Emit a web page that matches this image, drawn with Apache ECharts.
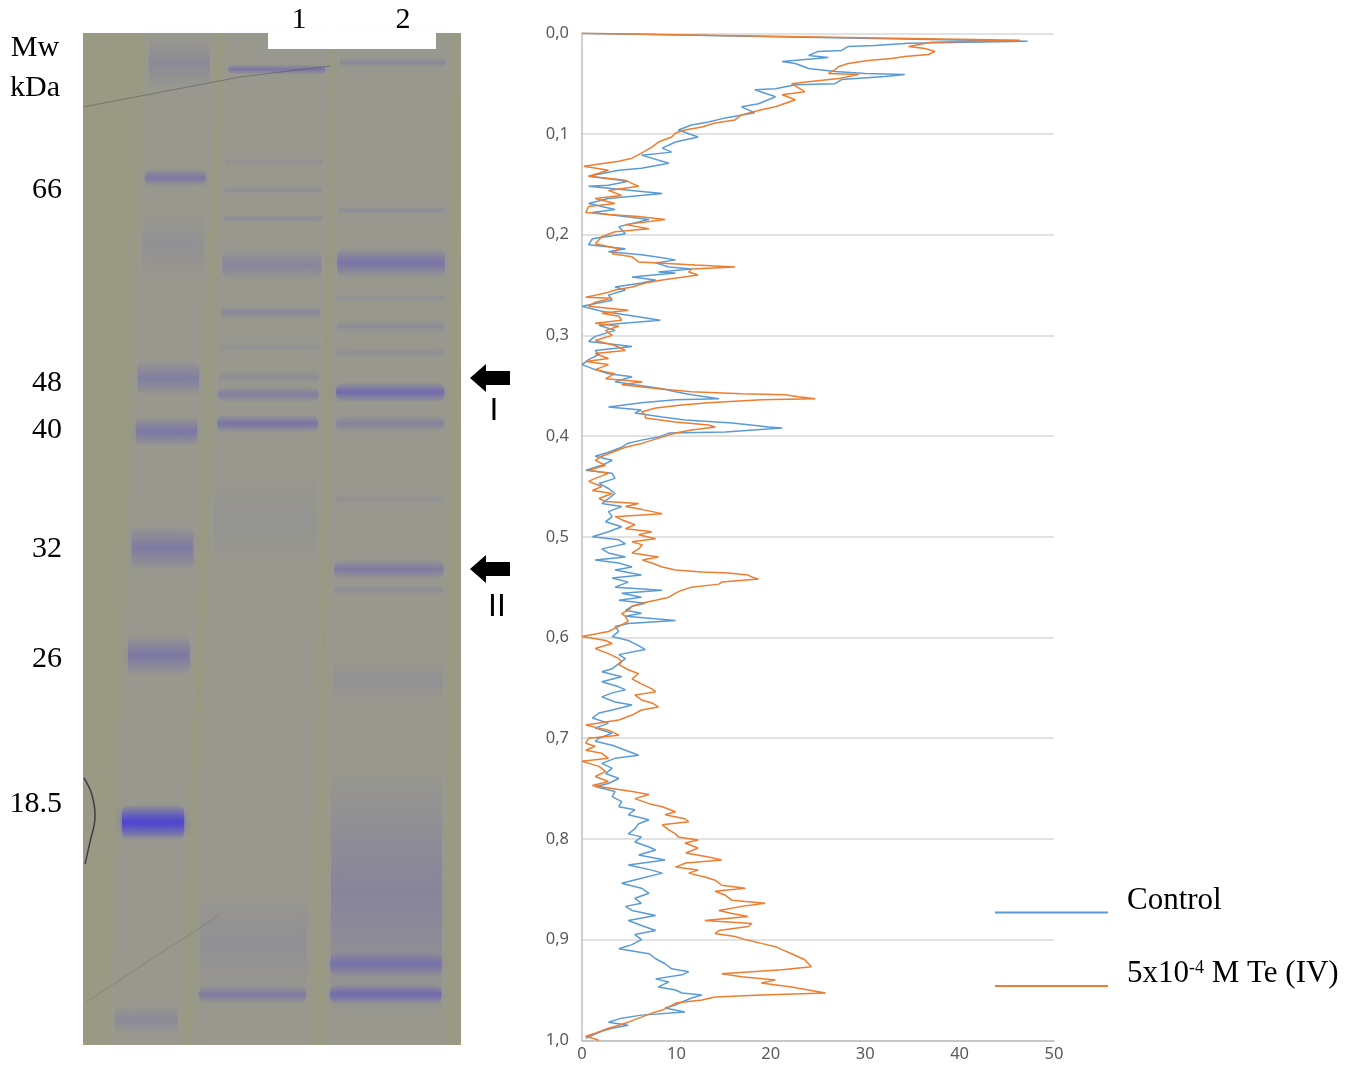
<!DOCTYPE html>
<html>
<head>
<meta charset="utf-8">
<title>SDS-PAGE and densitogram</title>
<script src="https://cdn.jsdelivr.net/npm/echarts@6.0.0/dist/echarts.min.js"></script>
<style>
  html, body { margin: 0; padding: 0; background: #fff; }
  #main { width: 1355px; height: 1065px; }
</style>
</head>
<body>
<div id="main"></div>
<script>
// densitogram profiles: [intensity, relative position]
var controlProfile = [
  [0,0],[47.2,0.008],[34.6,0.010],[31.0,0.012],[28.2,0.013],[27.5,0.017],[25.0,0.018],[24.0,0.022],[26.1,0.024],[21.2,0.028],[22.6,0.030],[24.0,0.035],[26.8,0.038],[30.0,0.040],[34.2,0.041],[32.1,0.043],[27.5,0.046],[26.8,0.050],[22.6,0.051],[20.5,0.055],[18.3,0.056],[20.5,0.063],[18.7,0.070],[16.9,0.073],[18.3,0.079],[15.2,0.084],[13.4,0.088],[11.6,0.091],[10.2,0.096],[12.3,0.103],[9.9,0.108],[8.5,0.114],[9.5,0.118],[6.3,0.121],[9.2,0.129],[6.3,0.134],[3.9,0.136],[0.7,0.142],[4.9,0.147],[2.8,0.151],[0.7,0.152],[8.5,0.159],[2.8,0.164],[0.7,0.169],[3.5,0.175],[1.1,0.178],[7.1,0.185],[3.9,0.192],[4.6,0.199],
  [1.1,0.204],[0.7,0.210],[4.6,0.214],[2.8,0.217],[6.3,0.220],[7.8,0.222],[9.9,0.225],[7.8,0.228],[9.2,0.232],[11.6,0.234],[8.1,0.237],[9.9,0.238],[5.3,0.242],[7.8,0.245],[6.3,0.248],[3.5,0.252],[4.6,0.255],[2.8,0.260],[3.2,0.265],[0.0,0.271],[2.1,0.276],[5.6,0.281],[8.3,0.285],[1.8,0.290],[3.5,0.295],[1.4,0.301],[0.7,0.306],[5.3,0.311],[1.4,0.315],[1.8,0.319],[0.7,0.324],[0.0,0.329],[1.4,0.334],[2.8,0.338],[5.3,0.341],[3.5,0.346],[5.6,0.349],[8.5,0.353],[9.9,0.356],[11.6,0.359],[14.5,0.363],[9.9,0.364],[6.3,0.367],[2.8,0.371],[6.3,0.374],[5.6,0.377],[8.5,0.381],[10.9,0.384],[15.9,0.387],[19.8,0.391],[21.2,0.392],[15.2,0.396],[9.2,0.397],[8.1,0.401],[6.3,0.404],[4.9,0.407],
  [4.2,0.411],[2.8,0.416],[1.4,0.420],[3.2,0.424],[2.1,0.429],[0.4,0.434],[3.2,0.437],[3.5,0.442],[1.8,0.447],[2.8,0.452],[3.5,0.457],[2.8,0.462],[2.1,0.467],[4.2,0.470],[2.8,0.475],[3.2,0.480],[2.5,0.485],[4.2,0.490],[2.8,0.495],[1.1,0.500],[3.9,0.503],[4.6,0.507],[2.1,0.512],[2.8,0.516],[4.6,0.520],[1.4,0.523],[3.9,0.526],[5.3,0.530],[3.5,0.533],[6.3,0.538],[3.2,0.541],[4.9,0.545],[3.5,0.550],[8.5,0.553],[4.2,0.556],[6.3,0.560],[3.9,0.563],[6.7,0.566],[5.3,0.569],[4.6,0.573],[6.3,0.576],[4.6,0.579],[9.9,0.583],[4.9,0.586],[3.5,0.589],[3.9,0.594],[3.2,0.599],[4.9,0.603],[6.0,0.608],[6.7,0.612],[3.9,0.617],[4.6,0.621],
  [3.9,0.626],[3.2,0.631],[2.1,0.634],[4.2,0.639],[2.1,0.644],[3.9,0.649],[4.6,0.652],[3.2,0.655],[2.1,0.659],[3.5,0.664],[5.3,0.667],[3.2,0.672],[1.8,0.675],[1.1,0.680],[2.8,0.685],[1.4,0.690],[3.2,0.695],[1.8,0.700],[1.4,0.703],[3.2,0.707],[4.6,0.712],[6.0,0.717],[3.5,0.720],[2.1,0.725],[3.2,0.730],[2.5,0.735],[3.9,0.740],[2.8,0.745],[1.4,0.748],[3.5,0.753],[3.2,0.758],[4.2,0.763],[3.9,0.768],[5.6,0.771],[4.9,0.776],[7.1,0.781],[6.0,0.785],[5.6,0.790],[4.9,0.795],[6.3,0.798],[5.6,0.803],[7.1,0.808],
  [7.8,0.811],[6.0,0.816],[8.8,0.821],[4.9,0.826],[7.4,0.831],[8.5,0.834],[6.3,0.839],[4.2,0.844],[6.3,0.849],[7.1,0.854],[5.6,0.859],[6.3,0.864],[4.6,0.867],[5.3,0.871],[7.8,0.876],[4.9,0.881],[6.3,0.886],[7.8,0.891],[5.6,0.895],[6.3,0.900],[5.3,0.905],[3.9,0.909],[7.1,0.914],[7.8,0.919],[8.8,0.924],[9.5,0.929],[11.3,0.932],[10.6,0.935],[7.8,0.939],[9.2,0.942],[8.1,0.947],[9.9,0.950],[10.6,0.953],[12.7,0.955],[11.6,0.958],[10.6,0.962],[9.9,0.965],[8.8,0.968],[10.9,0.972],[6.3,0.975],[4.2,0.978],[2.8,0.982],[4.9,0.985],[3.2,0.988],[2.1,0.991],[1.1,0.995],[0.4,0.998]
];

var teProfile = [
  [0,0],[46.4,0.007],[37.0,0.009],[34.6,0.013],[36.3,0.015],[37.4,0.018],[36.7,0.021],[34.2,0.023],[32.8,0.025],[30.3,0.027],[28.2,0.030],[27.2,0.033],[26.8,0.036],[26.1,0.040],[29.3,0.041],[27.2,0.045],[24.0,0.048],[22.2,0.050],[23.6,0.058],[21.2,0.061],[22.6,0.066],[20.5,0.073],[19.0,0.076],[16.9,0.081],[16.2,0.086],[14.1,0.089],[12.7,0.093],[10.9,0.096],[9.9,0.099],[9.5,0.103],[8.1,0.108],[7.4,0.113],[6.3,0.119],[5.3,0.124],[3.9,0.127],[0.2,0.132],[2.8,0.136],[0.7,0.142],[4.6,0.146],[6.0,0.152],[2.8,0.156],[4.2,0.161],[1.4,0.164],[3.5,0.169],[0.7,0.172],[0.4,0.178],[2.8,0.180],[6.0,0.182],[8.8,0.185],[4.6,0.190],[7.1,0.194],[3.5,0.197],[2.1,0.202],
  [1.4,0.209],[3.9,0.214],[3.2,0.219],[5.3,0.222],[6.0,0.227],[8.1,0.228],[12.0,0.230],[16.2,0.232],[11.6,0.234],[11.3,0.237],[12.3,0.240],[8.5,0.245],[6.7,0.248],[5.3,0.252],[3.5,0.255],[2.5,0.258],[0.4,0.262],[3.2,0.263],[1.4,0.267],[0.7,0.271],[4.9,0.275],[2.1,0.278],[3.9,0.281],[4.2,0.285],[1.4,0.288],[3.9,0.291],[2.5,0.295],[3.2,0.300],[1.4,0.305],[3.5,0.310],[4.6,0.315],[1.4,0.318],[2.8,0.323],[0.4,0.326],[2.8,0.329],[1.4,0.334],[3.5,0.338],[2.5,0.343],[6.4,0.346],[4.2,0.349],[8.1,0.353],[11.6,0.356],[16.9,0.358],[21.5,0.359],[22.9,0.361],[24.7,0.363],[19.0,0.364],[13.4,0.367],[10.6,0.369],[7.8,0.372],[6.3,0.376],[6.7,0.379],[6.7,0.382],[9.9,0.386],[13.4,0.389],[14.1,0.391],[11.6,0.394],[9.9,0.397],[8.5,0.401],[6.4,0.407],
  [4.6,0.411],[3.2,0.416],[2.1,0.420],[1.4,0.424],[2.5,0.429],[0.7,0.434],[2.8,0.437],[1.4,0.442],[0.7,0.445],[2.1,0.450],[1.1,0.454],[3.2,0.457],[1.8,0.462],[2.5,0.465],[6.0,0.467],[4.6,0.470],[6.4,0.473],[8.5,0.477],[3.5,0.480],[4.2,0.483],[5.6,0.488],[4.6,0.492],[7.4,0.495],[6.0,0.498],[7.8,0.502],[5.3,0.505],[6.4,0.508],[6.0,0.512],[5.3,0.516],[8.1,0.520],[6.4,0.523],[7.4,0.526],[8.5,0.530],[9.9,0.533],[12.7,0.535],[15.5,0.536],[17.6,0.538],[18.0,0.540],[18.7,0.542],[14.8,0.545],[14.5,0.547],[11.6,0.550],[10.6,0.553],[9.9,0.556],[9.2,0.560],[7.8,0.563],[6.3,0.566],[5.3,0.569],[4.9,0.573],[4.2,0.576],[4.6,0.579],[4.9,0.584],[3.9,0.589],[2.8,0.594],[0.0,0.599],[2.5,0.603],[3.2,0.606],[1.4,0.611],[2.8,0.616],[3.9,0.621],
  [4.2,0.624],[3.9,0.627],[4.9,0.632],[6.0,0.636],[5.3,0.641],[6.3,0.646],[7.4,0.651],[7.8,0.654],[5.6,0.657],[6.3,0.662],[7.4,0.665],[8.1,0.669],[6.3,0.672],[5.3,0.677],[3.9,0.682],[0.4,0.687],[2.8,0.692],[3.9,0.697],[0.7,0.700],[0.4,0.705],[1.4,0.708],[0.4,0.712],[2.1,0.715],[2.8,0.720],[0.0,0.723],[1.8,0.728],[2.5,0.733],[1.4,0.738],[2.8,0.743],[1.1,0.747],[3.2,0.750],[5.3,0.753],[7.1,0.756],[5.6,0.760],[7.1,0.765],[8.5,0.768],[9.9,0.773],[8.8,0.776],[10.9,0.780],[11.3,0.783],[8.5,0.786],[9.2,0.791],[9.9,0.795],[10.2,0.798],[12.3,0.801],[10.9,0.804],[12.3,0.809],
  [11.0,0.814],[13.4,0.818],[14.8,0.821],[11.0,0.824],[9.9,0.828],[12.3,0.831],[11.3,0.834],[13.1,0.838],[14.1,0.841],[14.8,0.846],[17.3,0.849],[14.1,0.852],[15.2,0.856],[15.9,0.861],[19.4,0.864],[16.9,0.867],[14.5,0.871],[15.9,0.874],[17.6,0.877],[13.0,0.881],[18.0,0.884],[17.6,0.887],[14.5,0.891],[14.1,0.894],[16.2,0.897],[17.3,0.900],[19.1,0.904],[20.5,0.907],[21.2,0.910],[22.2,0.914],[22.9,0.917],[23.6,0.920],[24.0,0.924],[24.3,0.927],[21.2,0.930],[18.0,0.932],[14.8,0.934],[16.9,0.937],[20.5,0.940],[19.0,0.943],[22.2,0.947],[24.0,0.950],[25.8,0.953],[19.0,0.955],[14.1,0.957],[12.7,0.960],[9.9,0.963],[9.2,0.967],[8.5,0.970],[7.4,0.973],[6.3,0.977],[4.9,0.982],[3.9,0.985],[2.8,0.988],[1.4,0.993],[0.4,0.996],[1.8,1.000]
];

var seriesNames = ['Control', '5x10-4 M Te (IV)'];

// gel: marker labels (kDa) and where they sit along the gel
var markerKDa = ['66', '48', '40', '32', '26', '18.5'];
var markerMigration = [0.155, 0.346, 0.392, 0.510, 0.619, 0.762];

// gel bands per lane: [migration, intensity, breadth]
var markerBands = [[0.03,0.22,0.05],[0.143,0.5,0.018],[0.21,0.12,0.07],[0.341,0.4,0.035],[0.394,0.5,0.03],[0.509,0.45,0.045],[0.615,0.5,0.04],[0.78,0.9,0.035],[0.975,0.22,0.03]];
var lane1Bands = [[0.036,0.55,0.01],[0.127,0.12,0.008],[0.155,0.17,0.008],[0.183,0.2,0.008],[0.229,0.3,0.03],[0.276,0.3,0.012],[0.31,0.12,0.01],[0.34,0.18,0.012],[0.357,0.4,0.016],[0.386,0.55,0.018],[0.48,0.08,0.1],[0.9,0.15,0.1],[0.95,0.45,0.018]];
var lane2Bands = [[0.029,0.25,0.01],[0.175,0.2,0.008],[0.227,0.55,0.03],[0.262,0.15,0.008],[0.29,0.2,0.012],[0.316,0.15,0.01],[0.355,0.7,0.02],[0.386,0.35,0.016],[0.46,0.12,0.01],[0.53,0.45,0.02],[0.55,0.18,0.01],[0.64,0.12,0.04],[0.85,0.3,0.25],[0.92,0.55,0.025],[0.95,0.7,0.02]];

// lane outline in gel fractions: [left, right] at top and at bottom
var laneTop = [[0.165, 0.35], [0.376, 0.655], [0.667, 0.972]];
var laneBottom = [[0.07, 0.26], [0.29, 0.60], [0.64, 0.96]];

var bandData = [];
[markerBands, lane1Bands, lane2Bands].forEach(function (list, lane) {
  list.forEach(function (b) { bandData.push([lane, b[0], b[1], b[2]]); });
});

function laneX(lane, side, m) {
  return laneTop[lane][side] + (laneBottom[lane][side] - laneTop[lane][side]) * m;
}

var chart = echarts.init(document.getElementById('main'));
var serif = 'Liberation Serif';

var option = {
  animation: false,
  grid: [
    {left: 582, top: 33.3, width: 472, height: 1007},
    {left: 83, top: 33, width: 378, height: 1012, show: true, backgroundColor: '#9a9a84', borderWidth: 0}
  ],
  xAxis: [
    {
      type: 'value', min: 0, max: 50, interval: 10, gridIndex: 0,
      axisLine: {onZero: false, lineStyle: {color: '#bfbfbf', width: 1.5}},
      axisTick: {show: false},
      splitLine: {show: false},
      axisLabel: {color: '#595959', fontSize: 16.5, fontFamily: 'Noto Sans', margin: 5}
    },
    {type: 'value', min: 0, max: 1, gridIndex: 1, show: false}
  ],
  yAxis: [
    {
      type: 'value', min: 0, max: 1, interval: 0.1, inverse: true, gridIndex: 0,
      axisLine: {show: true, lineStyle: {color: '#bfbfbf', width: 1.5}},
      axisTick: {show: false},
      splitLine: {lineStyle: {color: '#d9d9d9', width: 1.5}},
      axisLabel: {
        color: '#595959', fontSize: 16.5, fontFamily: 'Noto Sans', margin: 13,
        formatter: function (v) { return v.toFixed(1).replace('.', ','); }
      }
    },
    {type: 'value', min: 0, max: 1, inverse: true, gridIndex: 1, show: false}
  ],
  legend: {
    orient: 'vertical', left: 990, top: 880,
    itemWidth: 113, itemHeight: 2, itemGap: 19, icon: 'rect',
    data: seriesNames,
    formatter: function (name) {
      return name === seriesNames[1] ? '5x10{sup|-4} M Te (IV)' : name;
    },
    textStyle: {
      fontFamily: serif, fontSize: 31, color: '#000', lineHeight: 30,
      padding: [0, 0, 24, 14],
      rich: {sup: {fontFamily: serif, fontSize: 18, lineHeight: 14, verticalAlign: 'top', color: '#000'}}
    }
  },
  series: [
    {
      name: seriesNames[0], type: 'line', data: controlProfile,
      xAxisIndex: 0, yAxisIndex: 0, showSymbol: false, symbol: 'none',
      color: '#5b9bd5', lineStyle: {width: 1.5, color: '#5b9bd5'}
    },
    {
      name: seriesNames[1], type: 'line', data: teProfile,
      xAxisIndex: 0, yAxisIndex: 0, showSymbol: false, symbol: 'none',
      color: '#ed7d31', lineStyle: {width: 1.5, color: '#ed7d31'}
    },
    {
      // lanes of the gel
      type: 'custom', xAxisIndex: 1, yAxisIndex: 1, silent: true,
      data: laneTop.map(function (l, i) { return [i, 0]; }),
      renderItem: function (params, api) {
        var i = params.dataIndex;
        var pts = [
          api.coord([laneTop[i][0], 0]), api.coord([laneTop[i][1], 0]),
          api.coord([laneBottom[i][1], 1]), api.coord([laneBottom[i][0], 1])
        ];
        return {type: 'polygon', shape: {points: pts},
          style: {fill: 'rgba(150,148,185,0.16)', shadowBlur: 12, shadowColor: 'rgba(150,148,185,0.3)'}};
      }
    },
    {
      // protein bands
      type: 'custom', xAxisIndex: 1, yAxisIndex: 1, silent: true,
      data: bandData,
      renderItem: function (params, api) {
        var lane = api.value(0), m = api.value(1), a = api.value(2), s = api.value(3);
        var p0 = api.coord([laneX(lane, 0, m) + 0.012, m - s / 2]);
        var p1 = api.coord([laneX(lane, 1, m) - 0.012, m + s / 2]);
        var c = a > 0.8 ? '72,64,212' : '102,94,182';
        return {
          type: 'rect',
          shape: {x: p0[0], y: p0[1], width: p1[0] - p0[0], height: p1[1] - p0[1], r: 8},
          style: {
            fill: new echarts.graphic.LinearGradient(0, 0, 0, 1, [
              {offset: 0, color: 'rgba(' + c + ',0)'},
              {offset: 0.5, color: 'rgba(' + c + ',' + a + ')'},
              {offset: 1, color: 'rgba(' + c + ',0)'}
            ]),
            shadowBlur: 10,
            shadowColor: 'rgba(' + c + ',' + (a * 0.5) + ')'
          }
        };
      }
    },
    {
      // molecular weight labels
      type: 'custom', xAxisIndex: 1, yAxisIndex: 1, silent: true,
      data: markerMigration.map(function (m) { return [0, m]; }),
      renderItem: function (params, api) {
        var p = api.coord([0, api.value(1)]);
        return {type: 'text', x: p[0] - 21, y: p[1],
          style: {text: markerKDa[params.dataIndex], fontFamily: serif, fontSize: 30,
            fill: '#000', align: 'right', verticalAlign: 'middle'}};
      }
    }
  ],
  graphic: [
    {type: 'rect', z: 100, shape: {x: 268, y: 30, width: 168, height: 19}, style: {fill: '#fff'}},
    {type: 'text', z: 100, x: 299, y: 20, style: {text: '1', fontFamily: serif, fontSize: 30, fill: '#000', align: 'center', verticalAlign: 'middle'}},
    {type: 'text', z: 100, x: 403, y: 20, style: {text: '2', fontFamily: serif, fontSize: 30, fill: '#000', align: 'center', verticalAlign: 'middle'}},
    {type: 'text', z: 100, x: 35, y: 48, style: {text: 'Mw', fontFamily: serif, fontSize: 30, fill: '#000', align: 'center', verticalAlign: 'middle'}},
    {type: 'text', z: 100, x: 35, y: 88, style: {text: 'kDa', fontFamily: serif, fontSize: 30, fill: '#000', align: 'center', verticalAlign: 'middle'}},
    {type: 'polyline', z: 100, shape: {points: [[83, 107], [240, 77], [330, 66]]}, style: {stroke: 'rgba(60,60,70,0.4)', lineWidth: 1}},
    {type: 'polyline', z: 100, shape: {points: [[86, 1002], [150, 960], [218, 916]]}, style: {stroke: 'rgba(70,70,70,0.25)', lineWidth: 1}},
    {type: 'polyline', z: 100, shape: {points: [[84, 778], [92, 795], [95, 818], [90, 842], [85, 864]], smooth: 0.4}, style: {stroke: 'rgba(40,40,60,0.8)', lineWidth: 1.5, fill: null}},
    {type: 'polygon', z: 100, shape: {points: [[470, 378], [486, 364], [486, 371], [510, 371], [510, 385], [486, 385], [486, 392]]}, style: {fill: '#000'}},
    {type: 'polygon', z: 100, shape: {points: [[470, 569], [486, 555], [486, 562], [510, 562], [510, 576], [486, 576], [486, 583]]}, style: {fill: '#000'}},
    {type: 'text', z: 100, x: 494, y: 411, style: {text: 'I', fontFamily: 'Liberation Sans', fontSize: 32, fill: '#000', align: 'center', verticalAlign: 'middle'}},
    {type: 'text', z: 100, x: 497, y: 607, style: {text: 'II', fontFamily: 'Liberation Sans', fontSize: 32, fill: '#000', align: 'center', verticalAlign: 'middle'}}
  ]
};

chart.setOption(option);
</script>
</body>
</html>
